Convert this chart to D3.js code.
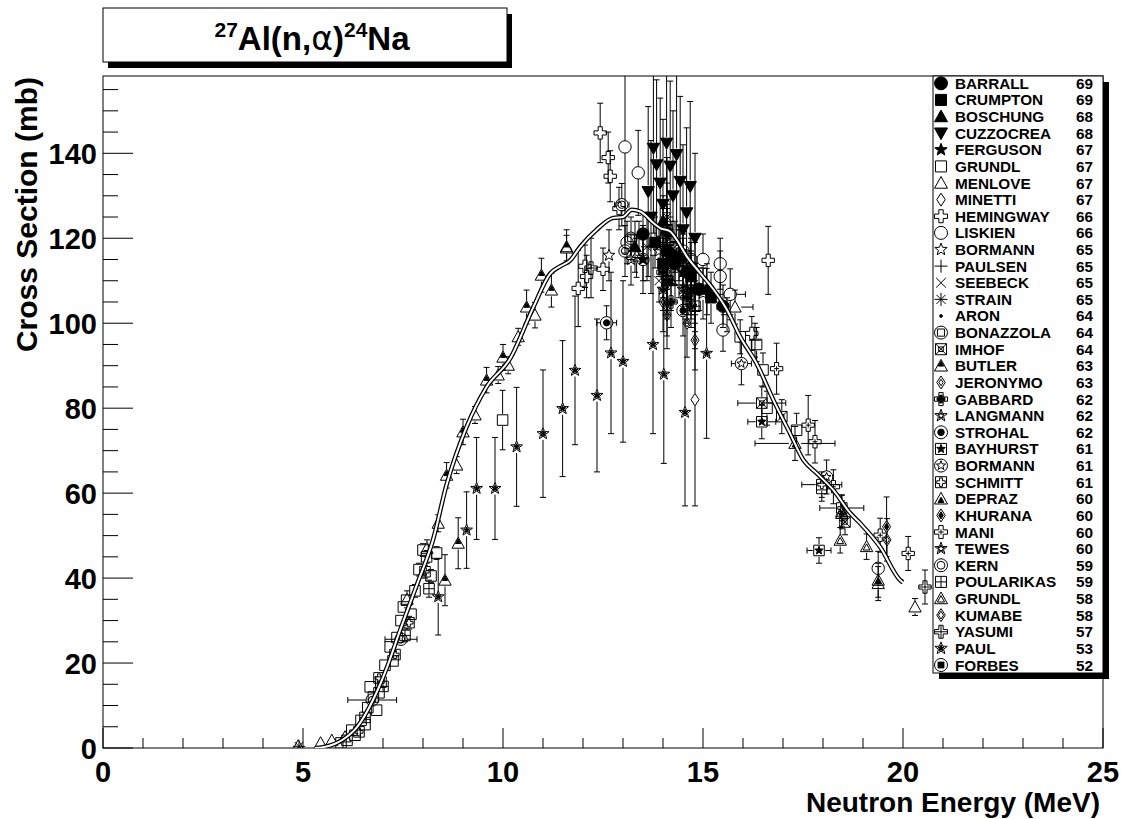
<!DOCTYPE html>
<html>
<head>
<meta charset="utf-8">
<script src="https://cdn.jsdelivr.net/npm/d3@7"></script>
<style>
  html, body { margin: 0; padding: 0; background: #fff; }
  svg { display: block; }
  text { font-family: "Liberation Sans", Arial, Helvetica, sans-serif; font-weight: bold; }
</style>
</head>
<body>
<svg id="chart" width="1121" height="819"></svg>
<script>
// ---- axis ticks ----
const ENERGY_TICKS = [0, 5, 10, 15, 20, 25];
const CS_TICKS = [0, 20, 40, 60, 80, 100, 120, 140];

// ---- evaluated excitation curve (MeV, mb) ----
const CURVE_E = [5.3, 5.5, 5.8, 6.0, 6.35, 6.75, 7.1, 7.43, 7.85, 8.25, 8.59, 9.09, 9.59, 10.18, 10.76, 11.18, 11.43, 11.68, 11.93, 12.34, 12.76, 13.0, 13.22, 13.43, 13.76, 13.93, 14.18, 14.34, 14.59, 14.93, 15.26, 15.59, 15.93, 16.34, 16.76, 17.18, 17.51, 17.84, 18.26, 18.68, 18.93, 19.43, 19.93, 20.0];
const CURVE_S = [0, 0.2, 1.0, 2.0, 4.9, 11.3, 19, 27.8, 38.5, 49, 62, 75.6, 85, 91.7, 103.8, 111.7, 113.4, 114.8, 118, 122, 124.8, 125, 126.7, 126.3, 123.6, 122.4, 121.6, 119.7, 115.8, 111.8, 108, 103.3, 96.8, 90.5, 81.9, 74, 67.8, 64.7, 60.7, 55.3, 52.9, 47.3, 39.5, 39];

// ---- measurements: [energy MeV, cross section mb, d(sigma), d(energy)] ----
const BARRALL_69 = [[13.5,121,5,0],[14.1,117,5,0],[14.3,114,5,0],[14.6,112,5,0],[14.9,108,5,0],[15.5,104,5,0]];
const CRUMPTON_69 = [[13.8,119,6,0],[14.0,114,6,0],[14.2,116,6,0],[14.7,111,6,0],[15.2,106,6,0]];
const BOSCHUNG_68 = [[13.3,118,6,0],[14.0,124,6,0],[14.4,116,6,0],[14.8,113,6,0],[15.1,108,6,0]];
const CUZZOCREA_68 = [[13.63,131,20,0],[13.7,125,18,0],[13.76,141.2,20,0],[13.84,137.3,20,0],[13.93,133,20,0],[14.0,128,20,0],[14.09,142.4,20,0],[14.1,121,18,0],[14.18,137,20,0],[14.25,130,20,0],[14.34,139.7,20,0],[14.43,133.4,20,0],[14.5,122,20,0],[14.59,126,20,0],[14.68,132.2,20,0],[14.8,120,20,0]];
const FERGUSON_67 = [[13.5,115,8,0],[14.1,118,8,0],[14.5,112,8,0]];
const GRUNDL_67 = [[5.95,1.2,0.5,0],[6.1,1.8,0.5,0],[6.22,4.2,0.6,0],[6.3,3.0,0.6,0],[6.45,6.5,0.8,0],[6.55,5.5,0.8,0],[6.62,9.5,0.8,0],[6.68,14.4,1,0],[6.76,12.0,1,0],[6.84,8.9,1,0],[6.9,13.0,1,0],[6.95,15.5,1,0],[7.05,19.5,1,0],[7.18,23.8,1,0],[7.25,20.5,1,0],[7.35,26.0,1,0],[7.45,30.0,1,0],[7.51,33.2,1,0],[7.59,34.8,1,0],[7.7,31.5,1,0],[7.8,37.0,1.5,0],[7.9,42.0,1.5,0],[8.0,46.6,1.5,0],[8.09,45.0,1.5,0],[8.2,40.5,1.5,0],[8.34,45.9,1.5,0],[9.99,77.2,7,0],[15.93,96.8,4,0],[16.34,95,4,0],[16.5,89,4,0],[16.6,80,4,0],[17.34,74.8,4,0],[17.97,61.1,3,0]];
const MENLOVE_67 = [[4.88,0.5,0.8,0],[5.44,1.2,0.5,0],[5.72,1.8,0.5,0],[6.05,2.6,0.6,0],[7.6,35,2,0],[8.1,47,2,0],[8.38,52.9,2,0],[8.84,66.6,2,0],[9.3,78.4,2,0],[9.88,87.8,2,0],[10.13,90.1,2,0],[10.38,96.8,2,0],[10.8,101.9,3,0],[11.59,117.7,3,0],[13.34,115.8,5,0],[15.8,103.8,4,0.45],[18.47,55.2,3,0],[19.38,38.7,4,0],[20.3,33.2,2,0]];
const MINETTI_67 = [[14.8,82,25,0]];
const HEMINGWAY_66 = [[11.88,108.2,9,0],[12.05,113.4,5,0],[12.09,111,5,0],[12.43,144.8,7,0],[12.5,112.7,5,0],[12.63,139,6,0],[12.68,134.6,6,0],[12.9,127,5,0],[16.22,97.6,4,0],[16.63,114.8,8,0]];
const LISKIEN_66 = [[13.05,141.5,25,0.15],[13.1,119,5,0],[13.38,135.4,10,0],[13.5,115,5,0],[14.2,119,5,0],[14.7,115,5,0],[15.0,115,6,0],[15.43,114,6,0],[15.43,111,6,0],[15.5,98.4,5,0],[15.68,106.8,6,0.38],[19.38,42.3,4,0]];
const BORMANN_65 = [[12.65,116,6,0],[13.2,115,6,0],[13.9,117,6,0],[14.6,108,6,0],[15.0,107,6,0]];
const PAULSEN_65 = [[13.4,120,4,0],[14.1,119,4,0],[14.3,109,4,0],[14.7,112,4,0],[15.6,102,4,0],[16.3,96,4,0]];
const SEEBECK_65 = [[13.9,110,5,0],[14.1,113,5,0],[14.7,106,5,0]];
const STRAIN_65 = [[4.9,0.4,0.5,0.1],[13.6,118,8,0],[14.1,125,8,0],[14.4,114,8,0]];
const ARON_64 = [[14.1,111,10,0],[14.8,104,10,0]];
const BONAZZOLA_64 = [[13.2,120,5,0],[14.1,116,5,0],[14.7,109,5,0]];
const IMHOF_64 = [[14.1,122,6,0],[16.47,81.2,4,0.6],[16.97,78,4,0],[18.55,53.2,3,0]];
const BUTLER_63 = [[8.55,39.5,6,0],[8.59,64.2,3,0],[8.88,48.2,6,0],[9.0,74.4,3,0],[9.59,86.6,3,0],[10.0,92,3,0],[10.59,103.8,4,0],[10.96,111.3,4,0],[11.21,107.8,4,0],[11.59,118,4,0]];
const JERONYMO_63 = [[14.0,105,7,0],[14.1,104,7,0],[14.8,96,7,0]];
const GABBARD_62 = [[14.0,112,6,0],[14.2,105,6,0],[14.6,106,6,0]];
const LANGMANN_62 = [[14.1,110,8,0]];
const STROHAL_62 = [[12.59,100.1,4,0.25],[14.5,103,6,0]];
const BAYHURST_61 = [[14.1,110,5,0],[16.47,76.8,4,0.35],[17.9,46.5,3,0.3]];
const BORMANN_61 = [[14.5,117,6,0],[15.96,90.5,5,0.25],[18.09,63.8,4,0]];
const SCHMITT_61 = [[6.4,3.8,1,0],[6.9,16.5,1,0],[7.3,22,1,0],[7.65,29.5,1.5,0],[8.05,41.5,1.5,0],[14.3,118,6,0],[17.97,62,3,0.5],[18.47,56.5,3,0.55]];
const DEPRAZ_60 = [[14.2,110,7,0],[17.3,71.7,4,1.0],[18.47,55.6,4,0],[19.38,39.5,4,0]];
const KHURANA_60 = [[14.7,108,6,0],[19.59,52.1,7,0]];
const MANI_60 = [[16.84,89.3,6,0],[17.63,76,7,0],[17.8,72.1,5,0],[18.26,61.5,4,0],[19.43,50.1,4,0],[20.13,45.8,4,0]];
const TEWES_60 = [[14.0,108,5,0],[14.5,108,5,0],[14.7,104,5,0]];
const KERN_59 = [[6.73,11.3,1,0.61],[7.45,25.6,1,0.4],[12.97,127.9,5,0.18],[13.05,117,6,0],[14.7,113,6,0]];
const POULARIKAS_59 = [[6.55,7.2,1,0],[7.0,14.5,1,0],[7.55,26.5,1.5,0],[8.15,37.5,2,0],[14.8,104,6,0]];
const GRUNDL_58 = [[14.1,114,6,0],[14.8,108,6,0],[18.43,48.9,3,0],[19.09,47.4,3,0]];
const KUMABE_58 = [[14.1,102,8,0],[14.6,100,8,0],[19.6,49,5,0]];
const YASUMI_57 = [[12.2,113,7,0],[14.0,120,7,0],[20.55,37.9,4,0]];
const PAUL_53 = [[8.38,35.6,9,0],[9.09,51.3,9,0],[9.34,61.1,12,0],[9.8,61.1,12,0],[10.34,70.9,14,0],[11.0,74,15,0],[11.49,79.9,16,0],[11.8,88.9,17.5,0],[12.35,83,18,0],[12.7,93,19,0],[13.0,91,19,0],[13.75,95,21,0],[14.02,88,21,0],[14.55,79,22,0],[15.09,92.9,20,0]];
const FORBES_52 = [[14.1,121,6,0],[14.5,115,6,0]];

// legend order: author, year, data, marker style
const SERIES = [
  ["BARRALL", 69, BARRALL_69, "circleF"],
  ["CRUMPTON", 69, CRUMPTON_69, "squareF"],
  ["BOSCHUNG", 68, BOSCHUNG_68, "triUF"],
  ["CUZZOCREA", 68, CUZZOCREA_68, "triDF"],
  ["FERGUSON", 67, FERGUSON_67, "starF"],
  ["GRUNDL", 67, GRUNDL_67, "squareO"],
  ["MENLOVE", 67, MENLOVE_67, "triUO"],
  ["MINETTI", 67, MINETTI_67, "diaO"],
  ["HEMINGWAY", 66, HEMINGWAY_66, "crossO"],
  ["LISKIEN", 66, LISKIEN_66, "circleO"],
  ["BORMANN", 65, BORMANN_65, "starO"],
  ["PAULSEN", 65, PAULSEN_65, "plus"],
  ["SEEBECK", 65, SEEBECK_65, "xcross"],
  ["STRAIN", 65, STRAIN_65, "asterisk"],
  ["ARON", 64, ARON_64, "dot"],
  ["BONAZZOLA", 64, BONAZZOLA_64, "circSq"],
  ["IMHOF", 64, IMHOF_64, "sqX"],
  ["BUTLER", 63, BUTLER_63, "triTop"],
  ["JERONYMO", 63, JERONYMO_63, "diaDia"],
  ["GABBARD", 62, GABBARD_62, "crossFill"],
  ["LANGMANN", 62, LANGMANN_62, "starStar"],
  ["STROHAL", 62, STROHAL_62, "circDot"],
  ["BAYHURST", 61, BAYHURST_61, "sqStar"],
  ["BORMANN", 61, BORMANN_61, "circStar"],
  ["SCHMITT", 61, SCHMITT_61, "sqCross"],
  ["DEPRAZ", 60, DEPRAZ_60, "triTriF"],
  ["KHURANA", 60, KHURANA_60, "diaF"],
  ["MANI", 60, MANI_60, "crossPlus"],
  ["TEWES", 60, TEWES_60, "starStar2"],
  ["KERN", 59, KERN_59, "circCirc"],
  ["POULARIKAS", 59, POULARIKAS_59, "sqPlus"],
  ["GRUNDL", 58, GRUNDL_58, "triTri"],
  ["KUMABE", 58, KUMABE_58, "diaDia2"],
  ["YASUMI", 57, YASUMI_57, "crossPlus2"],
  ["PAUL", 53, PAUL_53, "starF2"],
  ["FORBES", 52, FORBES_52, "circSqF"]
];

// ---- geometry ----
const svg = d3.select("#chart");
const FL = 103, FR = 1103, FT = 76, FB = 748;
const x = d3.scaleLinear().domain([0, 25]).range([FL, FR]);
const y = d3.scaleLinear().domain([0, 158.2]).range([FB, FT]);

// ---- marker shapes ----
const f = v => +v.toFixed(2);
const circ = r => `M${f(r)},0A${f(r)},${f(r)} 0 1,1 ${f(-r)},0A${f(r)},${f(r)} 0 1,1 ${f(r)},0Z`;
const sq = r => `M${f(-r)},${f(-r)}H${f(r)}V${f(r)}H${f(-r)}Z`;
const triU = (r, dy = 0) => `M0,${f(-r + dy)}L${f(r)},${f(r * 0.8 + dy)}L${f(-r)},${f(r * 0.8 + dy)}Z`;
const triD = r => `M0,${f(r)}L${f(r)},${f(-r * 0.8)}L${f(-r)},${f(-r * 0.8)}Z`;
const dia = r => `M0,${f(-r)}L${f(r * 0.65)},0L0,${f(r)}L${f(-r * 0.65)},0Z`;
const crossO = r => { const b = r / 3; return `M${f(-b)},${f(-r)}H${f(b)}V${f(-b)}H${f(r)}V${f(b)}H${f(b)}V${f(r)}H${f(-b)}V${f(b)}H${f(-r)}V${f(-b)}H${f(-b)}Z`; };
const star = (r, k = 0.42) => { let d = ""; for (let i = 0; i < 10; i++) { const rr = i % 2 ? r * k : r; const a = -Math.PI / 2 + i * Math.PI / 5; d += (i ? "L" : "M") + f(rr * Math.cos(a)) + "," + f(rr * Math.sin(a)); } return d + "Z"; };
const plus = r => `M${f(-r)},0H${f(r)}M0,${f(-r)}V${f(r)}`;
const xx = r => `M${f(-r)},${f(-r)}L${f(r)},${f(r)}M${f(-r)},${f(r)}L${f(r)},${f(-r)}`;

function shapeParts(type, r) {
  switch (type) {
    case "circleF": return [[circ(r), 1]];
    case "squareF": return [[sq(r * 0.85), 1]];
    case "triUF": return [[triU(r), 1]];
    case "triDF": return [[triD(r), 1]];
    case "starF": return [[star(r), 1]];
    case "squareO": return [[sq(r * 0.85), 0]];
    case "triUO": return [[triU(r), 0]];
    case "diaO": return [[dia(r), 0]];
    case "crossO": return [[crossO(r), 0]];
    case "circleO": return [[circ(r), 0]];
    case "starO": return [[star(r), 0]];
    case "plus": return [[plus(r), 0]];
    case "xcross": return [[xx(r * 0.75), 0]];
    case "asterisk": return [[plus(r) + xx(r * 0.7), 0]];
    case "dot": return [[circ(1.4), 1]];
    case "circSq": return [[circ(r), 0], [`M${f(-r*0.55)},${f(-r*0.55)}H${f(r*0.55)}V${f(r*0.55)}H${f(-r*0.55)}Z`, 0]];
    case "sqX": return [[sq(r * 0.85), 0], [xx(r * 0.85), 0], [sq(r * 0.35), 0]];
    case "triTop": return [[triU(r), 0], [triU(r * 0.42, -r * 0.3), 1]];
    case "diaDia": return [[dia(r), 0], [dia(r * 0.5), 0]];
    case "crossFill": return [[crossO(r), 0], [crossO(r * 0.6), 1]];
    case "starStar": return [[star(r), 0], [star(r * 0.5), 0]];
    case "circDot": return [[circ(r), 0], [circ(r * 0.5), 1]];
    case "sqStar": return [[sq(r * 0.85), 0], [star(r * 0.7), 1]];
    case "circStar": return [[circ(r), 0], [star(r * 0.75), 0]];
    case "sqCross": return [[sq(r * 0.85), 0], [crossO(r * 0.65), 0]];
    case "triTriF": return [[triU(r), 0], [triU(r * 0.45, r * 0.2), 1]];
    case "diaF": return [[dia(r), 0], [dia(r * 0.55), 1]];
    case "crossPlus": return [[crossO(r), 0], [plus(r * 0.4), 0]];
    case "starStar2": return [[star(r), 0], [star(r * 0.55), 0]];
    case "circCirc": return [[circ(r), 0], [circ(r * 0.6), 0]];
    case "sqPlus": return [[sq(r * 0.85), 0], [plus(r * 0.85), 0]];
    case "triTri": return [[triU(r), 0], [triU(r * 0.55, r * 0.1), 0]];
    case "diaDia2": return [[dia(r), 0], [dia(r * 0.6), 0]];
    case "crossPlus2": return [[crossO(r), 0], [plus(r), 0]];
    case "starF2": return [[star(r), 0], [star(r * 0.5), 1]];
    case "circSqF": return [[circ(r), 0], [sq(r * 0.45), 1]];
  }
  return [[circ(r), 0]];
}

function drawMarker(g, type, cx, cy, r) {
  const m = g.append("g").attr("transform", `translate(${f(cx)},${f(cy)})`);
  shapeParts(type, r).forEach(([d, fill]) => {
    m.append("path").attr("d", d)
      .attr("fill", fill ? "#000" : "none")
      .attr("stroke", "#000").attr("stroke-width", 1);
  });
}

// ---- title box ----
const title = svg.append("g");
title.append("rect").attr("x", 108).attr("y", 14).attr("width", 404).attr("height", 54).attr("fill", "#000");
title.append("rect").attr("x", 103).attr("y", 8).attr("width", 404).attr("height", 54)
  .attr("fill", "#fff").attr("stroke", "#000").attr("stroke-width", 1);
const tt = title.append("text").attr("x", 312).attr("y", 50).attr("text-anchor", "middle").attr("font-size", 33);
tt.append("tspan").attr("font-size", 21).attr("dy", -13).text("27");
tt.append("tspan").attr("dy", 13).text("Al(n,");
tt.append("tspan").attr("font-family", "'DejaVu Sans', sans-serif").attr("font-weight", "normal").text("α");
tt.append("tspan").text(")");
tt.append("tspan").attr("font-size", 21).attr("dy", -13).text("24");
tt.append("tspan").attr("dy", 13).text("Na");

// ---- frame and axes ----
svg.append("defs").append("clipPath").attr("id", "frameClip")
  .append("rect").attr("x", FL).attr("y", FT).attr("width", FR - FL).attr("height", FB - FT);

const axes = svg.append("g").attr("stroke", "#000").attr("stroke-width", 1);
axes.append("rect").attr("x", FL).attr("y", FT).attr("width", FR - FL).attr("height", FB - FT).attr("fill", "none");

// bottom axis ticks
d3.range(0, 26, 1).forEach(v => {
  const len = v % 5 === 0 ? 20 : 10;
  axes.append("line").attr("x1", x(v)).attr("x2", x(v)).attr("y1", FB).attr("y2", FB - len);
});
svg.append("g").selectAll("text").data(ENERGY_TICKS).join("text")
  .attr("x", d => x(d)).attr("y", 782).attr("text-anchor", "middle").attr("font-size", 29)
  .text(d => d);

// left axis ticks
d3.range(0, 158, 5).forEach(v => {
  const len = v % 20 === 0 ? 30 : 15;
  axes.append("line").attr("x1", FL).attr("x2", FL + len).attr("y1", y(v)).attr("y2", y(v));
});
svg.append("g").selectAll("text").data(CS_TICKS).join("text")
  .attr("x", 97).attr("y", d => y(d) + 10.5).attr("text-anchor", "end").attr("font-size", 29)
  .text(d => d);

svg.append("text").attr("x", 1100).attr("y", 812).attr("text-anchor", "end").attr("font-size", 28)
  .text("Neutron Energy (MeV)");
svg.append("text").attr("transform", "translate(37,77) rotate(-90)").attr("text-anchor", "end")
  .attr("font-size", 30).text("Cross Section (mb)");

// ---- data: error bars then markers ----
const plot = svg.append("g").attr("clip-path", "url(#frameClip)");
const MR = 6.2, CAP = 3;
SERIES.forEach(([name, yr, data, type]) => {
  const g = plot.append("g");
  data.forEach(([e, s, ds, de]) => {
    const cx = x(e), cy = y(s);
    const gap = type === "dot" ? 1.5 : MR;
    if (ds > 0) {
      const yt = y(s + ds), yb = y(s - ds);
      if (cy - yt > gap) {
        g.append("line").attr("x1", cx).attr("x2", cx).attr("y1", yt).attr("y2", cy - gap).attr("stroke", "#000");
        g.append("line").attr("x1", cx - CAP).attr("x2", cx + CAP).attr("y1", yt).attr("y2", yt).attr("stroke", "#000");
      }
      if (yb - cy > gap) {
        g.append("line").attr("x1", cx).attr("x2", cx).attr("y1", cy + gap).attr("y2", yb).attr("stroke", "#000");
        g.append("line").attr("x1", cx - CAP).attr("x2", cx + CAP).attr("y1", yb).attr("y2", yb).attr("stroke", "#000");
      }
    }
    if (de > 0) {
      const xl = x(e - de), xr = x(e + de);
      if (cx - xl > gap) {
        g.append("line").attr("x1", xl).attr("x2", cx - gap).attr("y1", cy).attr("y2", cy).attr("stroke", "#000");
        g.append("line").attr("x1", xl).attr("x2", xl).attr("y1", cy - CAP).attr("y2", cy + CAP).attr("stroke", "#000");
      }
      if (xr - cx > gap) {
        g.append("line").attr("x1", cx + gap).attr("x2", xr).attr("y1", cy).attr("y2", cy).attr("stroke", "#000");
        g.append("line").attr("x1", xr).attr("x2", xr).attr("y1", cy - CAP).attr("y2", cy + CAP).attr("stroke", "#000");
      }
    }
    drawMarker(g, type, cx, cy, MR);
  });
});

// ---- evaluated curve: white line with black edges ----
const curvePts = CURVE_E.map((e, i) => [e, CURVE_S[i]]);
const line = d3.line().x(d => x(d[0])).y(d => y(d[1])).curve(d3.curveMonotoneX);
plot.append("path").attr("d", line(curvePts)).attr("fill", "none").attr("stroke", "#000").attr("stroke-width", 4.5);
plot.append("path").attr("d", line(curvePts)).attr("fill", "none").attr("stroke", "#fff").attr("stroke-width", 2);

// ---- legend ----
const LX = 933, LY = 76, LW = 170, LH = 597;
const leg = svg.append("g");
leg.append("rect").attr("x", LX + 6).attr("y", LY + 6).attr("width", LW).attr("height", LH).attr("fill", "#000");
leg.append("rect").attr("x", LX).attr("y", LY).attr("width", LW).attr("height", LH)
  .attr("fill", "#fff").attr("stroke", "#000").attr("stroke-width", 1);
SERIES.forEach(([name, yr, data, type], i) => {
  const cy = 83.3 + i * 16.62;
  drawMarker(leg, type, 941, cy, 6.5);
  leg.append("text").attr("x", 955).attr("y", cy + 5.5).attr("font-size", 15.3).text(name);
  leg.append("text").attr("x", 1093).attr("y", cy + 5.5).attr("font-size", 15.3).attr("text-anchor", "end").text(yr);
});
</script>
</body>
</html>
